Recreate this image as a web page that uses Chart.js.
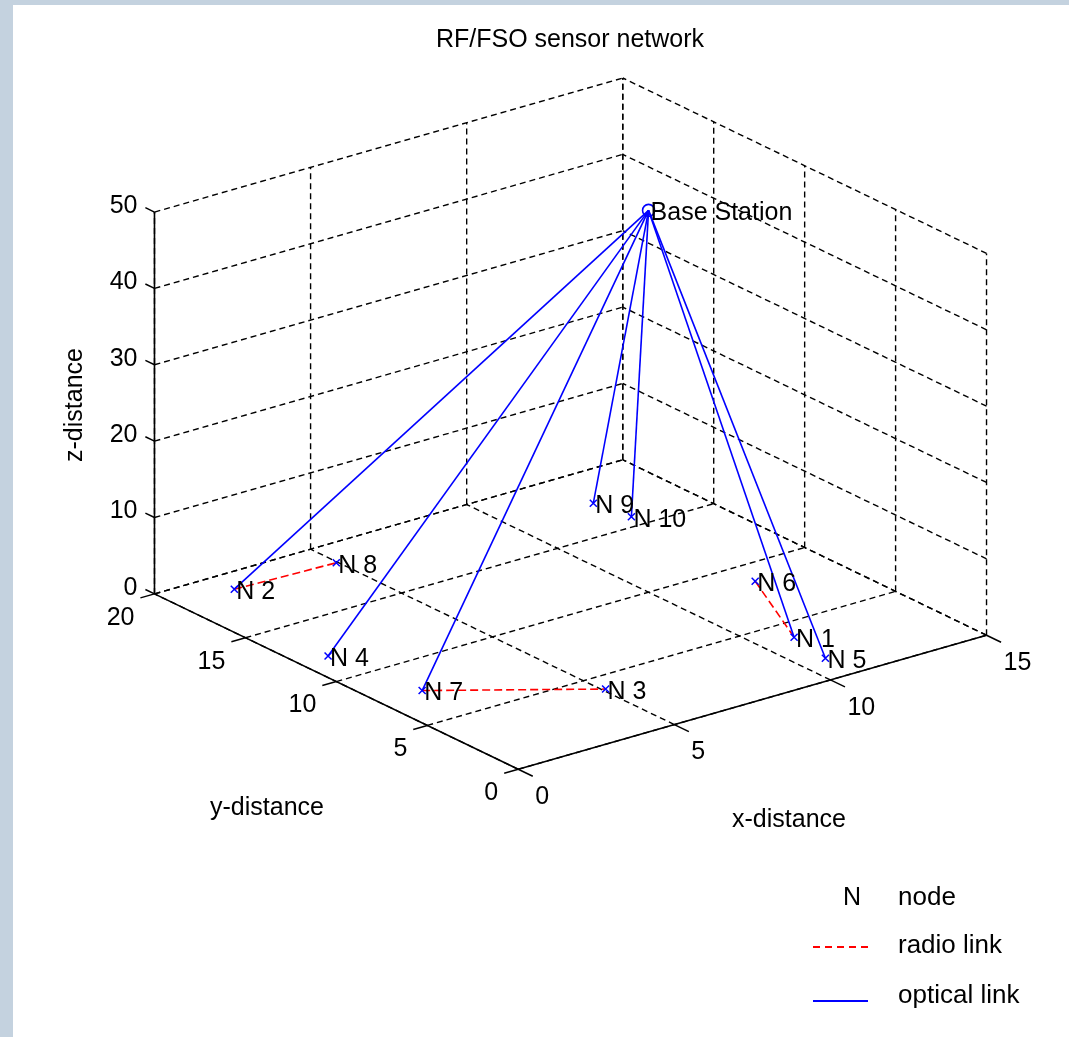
<!DOCTYPE html>
<html>
<head>
<meta charset="utf-8">
<script src="https://cdn.jsdelivr.net/npm/chart.js@4.4.0/dist/chart.umd.min.js"></script>
<style>
  html, body { margin: 0; padding: 0; background: #c4d2df; }
  #wrap { position: relative; width: 1069px; height: 1037px; overflow: hidden; }
  #paper { position: absolute; left: 13px; top: 5px; right: 0; bottom: 0; background: #fff; }
  #chart { position: absolute; left: 0; top: 0; }
</style>
</head>
<body>
<div id="wrap">
  <div id="paper"></div>
  <canvas id="chart" width="1069" height="1037"></canvas>
</div>
<script>
// ----- data -----
const nodeNames = ['N 1', 'N 2', 'N 3', 'N 4', 'N 5', 'N 6', 'N 7', 'N 8', 'N 9', 'N 10'];
const nodeX = [11.05, 1.8, 5.1, 0.9, 10.8, 12.6, 1.35, 4.95, 12.6, 12.8];
const nodeY = [3.8, 18.7, 3.95, 12.0, 1.65, 8.6, 7.6, 18.5, 17.5, 15.75];
const nodeZ = [0, 0, 0, 0, 0, 0, 0, 0, 0, 0];
const baseStation = [10, 10, 50];

// optical links go from the base station to these nodes
const opticalLinks = ['N 1', 'N 2', 'N 4', 'N 5', 'N 7', 'N 9', 'N 10'];
// radio links between two nodes
const radioLinks = [['N 2', 'N 8'], ['N 7', 'N 3'], ['N 6', 'N 1']];

const xTicks = [0, 5, 10, 15];
const yTicks = [0, 5, 10, 15, 20];
const zTicks = [0, 10, 20, 30, 40, 50];
const xLim = [0, 15], yLim = [0, 20], zLim = [0, 50];

// ----- 3d view (fixed camera, like matlab's default view) -----
const view = { ox: 518, oy: 773, xu: [31.67, -9.07], yu: [-18.45, -8.9], zu: -7.75 };
function proj(x, y, z) {
    return {
        x: view.ox + x * view.xu[0] + y * view.yu[0],
        y: view.oy + x * view.xu[1] + y * view.yu[1] + z * view.zu
    };
}

const FONT = '25px "Liberation Sans", Arial, sans-serif';
const BLUE = '#0000ff', RED = '#ff0000';
const GRID_DASH = [6, 4];

function node(name) {
    const i = nodeNames.indexOf(name);
    return [nodeX[i], nodeY[i], nodeZ[i]];
}

function seg(a, b, color, dash, width, order) {
    return {
        type: 'line',
        data: [proj(...a), proj(...b)],
        borderColor: color,
        borderWidth: width,
        borderDash: dash,
        pointRadius: 0,
        fill: false,
        order: order
    };
}

const datasets = [];

// grid on the floor and two back walls
xTicks.forEach(v => {
    datasets.push(seg([v, yLim[0], zLim[0]], [v, yLim[1], zLim[0]], '#000', GRID_DASH, 1.4, 4));
    datasets.push(seg([v, yLim[1], zLim[0]], [v, yLim[1], zLim[1]], '#000', GRID_DASH, 1.4, 4));
});
yTicks.forEach(v => {
    datasets.push(seg([xLim[0], v, zLim[0]], [xLim[1], v, zLim[0]], '#000', GRID_DASH, 1.4, 4));
    datasets.push(seg([xLim[1], v, zLim[0]], [xLim[1], v, zLim[1]], '#000', GRID_DASH, 1.4, 4));
});
zTicks.forEach(v => {
    datasets.push(seg([xLim[0], yLim[1], v], [xLim[1], yLim[1], v], '#000', GRID_DASH, 1.4, 4));
    datasets.push(seg([xLim[1], yLim[0], v], [xLim[1], yLim[1], v], '#000', GRID_DASH, 1.4, 4));
});

// axis lines + tick marks
datasets.push(seg([xLim[0], yLim[0], zLim[0]], [xLim[1], yLim[0], zLim[0]], '#000', [], 1.6, 3));
datasets.push(seg([xLim[0], yLim[0], zLim[0]], [xLim[0], yLim[1], zLim[0]], '#000', [], 1.6, 3));
datasets.push(seg([xLim[0], yLim[1], zLim[0]], [xLim[0], yLim[1], zLim[1]], '#000', [], 1.6, 3));
xTicks.forEach(v => datasets.push(seg([v, 0, 0], [v, -0.8, 0], '#000', [], 1.5, 3)));
yTicks.forEach(v => datasets.push(seg([0, v, 0], [-0.45, v, 0], '#000', [], 1.5, 3)));
zTicks.forEach(v => datasets.push(seg([0, 20, v], [0, 20.5, v], '#000', [], 1.5, 3)));

// links
radioLinks.forEach(l => datasets.push(seg(node(l[0]), node(l[1]), RED, [8, 4], 1.6, 2)));
opticalLinks.forEach(n => datasets.push(seg(baseStation, node(n), BLUE, [], 1.6, 1)));

// node markers
datasets.push({
    type: 'scatter',
    data: nodeNames.map((n, i) => proj(nodeX[i], nodeY[i], nodeZ[i])),
    pointStyle: 'crossRot',
    pointRadius: 5,
    borderColor: BLUE,
    borderWidth: 1.5,
    order: 0
});
datasets.push({
    type: 'scatter',
    data: [proj(...baseStation)],
    pointStyle: 'circle',
    pointRadius: 6,
    borderColor: BLUE,
    backgroundColor: 'rgba(0,0,0,0)',
    borderWidth: 1.6,
    order: 0
});

// ----- texts: title, tick labels, axis labels, node labels, legend -----
const textPlugin = {
    id: 'texts',
    afterDatasetsDraw(chart) {
        const ctx = chart.ctx;
        const sx = chart.scales.x, sy = chart.scales.y;
        const at = (p) => [sx.getPixelForValue(p.x), sy.getPixelForValue(p.y)];
        ctx.save();
        ctx.fillStyle = '#000';
        ctx.font = FONT;
        ctx.textBaseline = 'middle';

        // title
        ctx.textAlign = 'center';
        ctx.fillText('RF/FSO sensor network', 570, 40);

        // tick labels
        ctx.textAlign = 'left';
        xTicks.forEach(v => {
            const [px, py] = at(proj(v, yLim[0], zLim[0]));
            ctx.fillText(String(v), px + 17, py + 28);
        });
        ctx.textAlign = 'right';
        yTicks.forEach(v => {
            const [px, py] = at(proj(xLim[0], v, zLim[0]));
            ctx.fillText(String(v), px - 20, py + 24);
        });
        zTicks.forEach(v => {
            const [px, py] = at(proj(xLim[0], yLim[1], v));
            ctx.fillText(String(v), px - 17, py - 6);
        });

        // axis labels
        ctx.textAlign = 'center';
        ctx.fillText('y-distance', 267, 808);
        ctx.fillText('x-distance', 789, 820);
        ctx.save();
        ctx.translate(75, 405);
        ctx.rotate(-Math.PI / 2);
        ctx.fillText('z-distance', 0, 0);
        ctx.restore();

        // node labels
        ctx.textAlign = 'left';
        nodeNames.forEach((n, i) => {
            const [px, py] = at(proj(nodeX[i], nodeY[i], nodeZ[i]));
            ctx.fillText(n, px + 2, py + 3);
        });
        const [bx, by] = at(proj(...baseStation));
        ctx.fillText('Base Station', bx + 2, by + 3);

        // legend
        ctx.textAlign = 'center';
        ctx.fillText('N', 852, 898);
        ctx.textAlign = 'left';
        ctx.font = '26px "Liberation Sans", Arial, sans-serif';
        ctx.fillText('node', 898, 898);
        ctx.fillText('radio link', 898, 946);
        ctx.fillText('optical link', 898, 996);
        ctx.lineWidth = 2;
        ctx.strokeStyle = RED;
        ctx.setLineDash([7, 5]);
        ctx.beginPath(); ctx.moveTo(813, 947); ctx.lineTo(868, 947); ctx.stroke();
        ctx.strokeStyle = BLUE;
        ctx.setLineDash([]);
        ctx.beginPath(); ctx.moveTo(813, 1001); ctx.lineTo(868, 1001); ctx.stroke();
        ctx.restore();
    }
};

new Chart(document.getElementById('chart'), {
    type: 'scatter',
    data: { datasets: datasets },
    options: {
        responsive: false,
        animation: false,
        layout: { padding: 0 },
        scales: {
            x: { type: 'linear', min: 0, max: 1069, display: false },
            y: { type: 'linear', min: 0, max: 1037, reverse: true, display: false }
        },
        plugins: {
            legend: { display: false },
            tooltip: { enabled: false }
        }
    },
    plugins: [textPlugin]
});
</script>
</body>
</html>
